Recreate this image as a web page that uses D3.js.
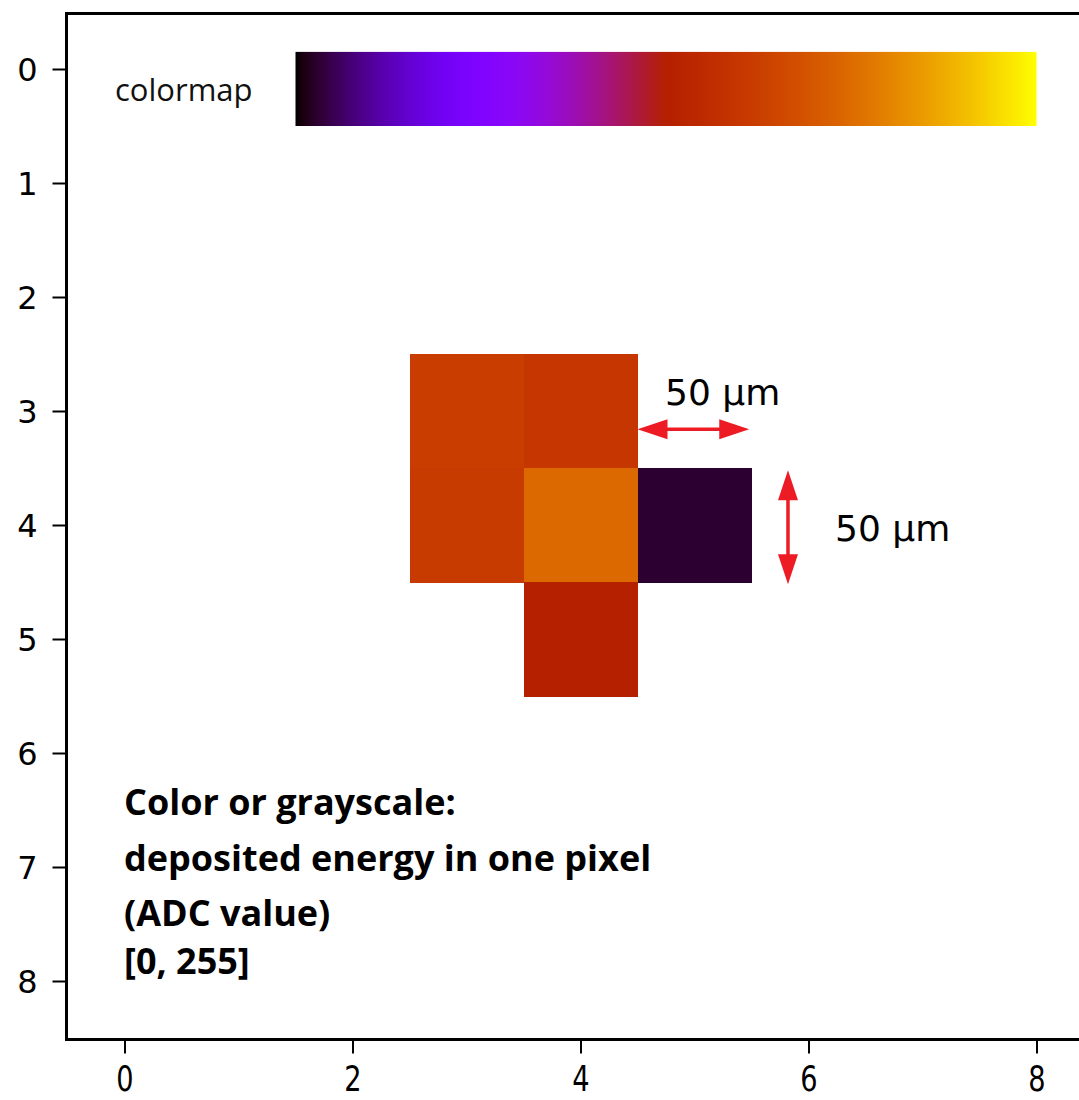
<!DOCTYPE html>
<html>
<head>
<meta charset="utf-8">
<script src="https://cdn.jsdelivr.net/npm/d3@7"></script>
<style>
  html, body { margin: 0; padding: 0; background: #fff; }
  svg { display: block; }
</style>
</head>
<body>
<svg id="chart" width="1079" height="1100"></svg>
<script>
// ---- data ----
const cellCols = [3, 4, 3, 4, 5, 4];
const cellRows = [3, 3, 4, 4, 4, 5];
const cellADC  = [158, 152, 156, 190, 8, 128];
const xTicks = [0, 2, 4, 6, 8];
const yTicks = [0, 1, 2, 3, 4, 5, 6, 7, 8];
const noteLines = ["Color or grayscale:", "deposited energy in one pixel", "(ADC value)", "[0, 255]"];
const sizeLabel = "50 µm";
const colormapLabel = "colormap";

// gnuplot colormap
function gnuplot(t) {
  t = Math.max(0, Math.min(1, t));
  const r = Math.sqrt(t), g = t * t * t, b = Math.max(0, Math.sin(2 * Math.PI * t));
  return d3.rgb(Math.round(r * 255), Math.round(g * 255), Math.round(b * 255)).formatHex();
}
const color = v => gnuplot(v / 255);

const svg = d3.select("#chart");
const x = d3.scaleLinear().domain([-0.5, 8.5]).range([67.5, 67.5 + 9 * 114]);
const y = d3.scaleLinear().domain([-0.5, 8.5]).range([12, 12 + 9 * 114]);

// colorbar gradient
const defs = svg.append("defs");
const grad = defs.append("linearGradient").attr("id", "cmap").attr("x1", "0%").attr("x2", "100%");
d3.range(0, 101).forEach(i => {
  grad.append("stop").attr("offset", i + "%").attr("stop-color", gnuplot(i / 100));
});
svg.append("rect")
  .attr("x", x(1.5)).attr("y", y(-0.15))
  .attr("width", x(8) - x(1.5)).attr("height", y(0.5) - y(-0.15))
  .attr("fill", "url(#cmap)");

svg.append("text").attr("x", 115).attr("y", 101)
  .attr("font-family", "'Open Sans', 'Noto Sans', sans-serif").attr("font-size", 31)
  .attr("fill", "#111").text(colormapLabel);

// cells
svg.append("g").attr("shape-rendering", "crispEdges")
  .selectAll("rect").data(cellADC).join("rect")
  .attr("x", (d, i) => x(cellCols[i] - 0.5))
  .attr("y", (d, i) => y(cellRows[i] - 0.5))
  .attr("width", x(1) - x(0) + 0.5)
  .attr("height", y(1) - y(0) + 0.5)
  .attr("fill", d => color(d));

// arrows
const red = "#ed1c24";
function arrow(x1, y1, x2, y2) {
  const g = svg.append("g");
  const ang = Math.atan2(y2 - y1, x2 - x1);
  const L = 30, W = 10;
  const ux = Math.cos(ang), uy = Math.sin(ang);
  g.append("line").attr("x1", x1 + ux * L * 0.8).attr("y1", y1 + uy * L * 0.8)
    .attr("x2", x2 - ux * L * 0.8).attr("y2", y2 - uy * L * 0.8)
    .attr("stroke", red).attr("stroke-width", 3.5);
  const head = (px, py, dx, dy) => {
    const bx = px + dx * L, by = py + dy * L;
    g.append("path").attr("d",
      `M${px},${py} L${bx - dy * W},${by + dx * W} L${bx + dy * W},${by - dx * W} Z`)
      .attr("fill", red);
  };
  head(x1, y1, ux, uy);
  head(x2, y2, -ux, -uy);
}
arrow(x(4.5), y(3.16), x(5.48), y(3.16));
arrow(x(5.82), y(3.52), x(5.82), y(4.52));

svg.append("text").attr("x", 665).attr("y", 405)
  .attr("font-family", "'DejaVu Sans', sans-serif").attr("font-size", 36)
  .attr("fill", "#000").text(sizeLabel);
svg.append("text").attr("x", 835).attr("y", 541)
  .attr("font-family", "'DejaVu Sans', sans-serif").attr("font-size", 36)
  .attr("fill", "#000").text(sizeLabel);

// note text
const noteY = [815, 871, 926, 974];
svg.append("g").selectAll("text").data(noteLines).join("text")
  .attr("x", 124).attr("y", (d, i) => noteY[i])
  .attr("font-family", "'Open Sans', 'Noto Sans', sans-serif")
  .attr("font-weight", "bold").attr("font-size", 36)
  .attr("fill", "#000").text(d => d);

// axes
const xAxis = d3.axisBottom(x).tickValues(xTicks).tickSize(14).tickPadding(0).tickFormat(d3.format("d"));
const yAxis = d3.axisLeft(y).tickValues(yTicks).tickSize(14).tickPadding(0).tickFormat(d3.format("d"));

const axisY = y(8.5) + 1.5;
const gx = svg.append("g").attr("transform", `translate(0,${axisY})`).call(xAxis);
gx.select(".domain").remove();
gx.selectAll(".tick line").attr("stroke", "#000").attr("stroke-width", 2);
gx.selectAll(".tick text")
  .attr("y", 0).attr("dy", null)
  .attr("transform", `translate(0,${1091 - axisY}) scale(0.8,1.05)`)
  .attr("text-anchor", "middle")
  .attr("font-family", "'DejaVu Sans', sans-serif").attr("font-size", 34)
  .attr("fill", "#000");

const gy = svg.append("g").attr("transform", `translate(${x(-0.5) - 1},0)`).call(yAxis);
gy.select(".domain").remove();
gy.selectAll(".tick line").attr("stroke", "#000").attr("stroke-width", 2);
gy.selectAll(".tick text")
  .attr("x", -29).attr("dy", "0.36em")
  .attr("text-anchor", "end")
  .attr("font-family", "'DejaVu Sans', sans-serif").attr("font-size", 32)
  .attr("fill", "#000");

// spines (left, top, bottom; right is beyond view)
const sp = svg.append("g").attr("stroke", "#000").attr("stroke-width", 3).attr("fill", "none");
sp.append("line").attr("x1", x(-0.5) - 1).attr("x2", x(-0.5) - 1).attr("y1", y(-0.5) + 1.5).attr("y2", y(8.5) + 1.5);
sp.append("line").attr("x1", x(-0.5) - 2.5).attr("x2", x(8.5)).attr("y1", y(-0.5) + 1.5).attr("y2", y(-0.5) + 1.5);
sp.append("line").attr("x1", x(-0.5) - 2.5).attr("x2", x(8.5)).attr("y1", y(8.5) + 1.5).attr("y2", y(8.5) + 1.5);
</script>
</body>
</html>
